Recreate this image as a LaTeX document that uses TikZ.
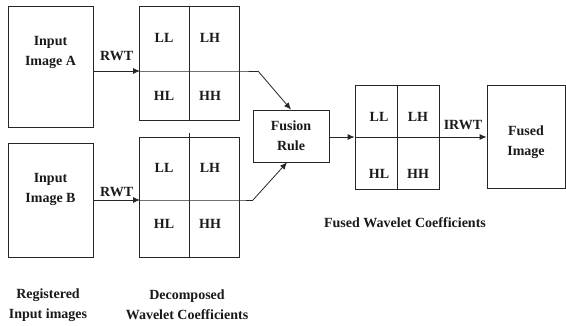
\documentclass[tikz,border=0pt]{standalone}
\usepackage{fontspec}
\setmainfont{Liberation Serif}
\usetikzlibrary{positioning, arrows.meta}
\tikzset{>={Latex[length=7pt,width=6pt]},
every node/.style={font=\fontsize{14}{20}\selectfont\bfseries, align=center, text=black!90},
box/.style={draw=black!85, line width=0.8pt, inner sep=0pt},
line/.style={draw=black!85, line width=0.8pt},
}

\begin{document}
\begin{tikzpicture}[x=1pt, y=-1pt]
    \useasboundingbox (0,0) rectangle (566,325);

    % input images
    \node[box, minimum width=85pt, minimum height=121pt] (imgA) at (50.5,66.5) {};
    \node[box, minimum width=85pt, minimum height=114pt] (imgB) at (50.5,200) {};
    \node (tA) at ([yshift=14pt]imgA.center) {Input\\Image A};
    \node (tB) at ([yshift=11pt]imgB.center) {Input\\Image B};

    % decomposed coefficients
    \node[box, minimum width=100pt, minimum height=114pt] (gA) at (189,63) {};
    \node[box, minimum width=100pt, minimum height=120pt] (gB) at (189,197) {};
    \node (llA) at (164,38) {LL};
    \node (lhA) at (210,38) {LH};
    \node (hlA) at (164,96) {HL};
    \node (hhA) at (210,96) {HH};
    \node (llB) at (164,168) {LL};
    \node (lhB) at (210,168) {LH};
    \node (hlB) at (164,224) {HL};
    \node (hhB) at (210,224) {HH};

    % fusion and output
    \node[box, minimum width=76pt, minimum height=52pt] (fus) at (291,136) {Fusion\\Rule};
    \node[box, minimum width=84pt, minimum height=104pt] (gF) at (397,137) {};
    \node (llF) at (379,117) {LL};
    \node (lhF) at (418,117) {LH};
    \node (hlF) at (379,174) {HL};
    \node (hhF) at (418,174) {HH};
    \node[box, minimum width=78pt, minimum height=103pt] (out) at (526,137) {};
    \node (tOut) at ([yshift=-5pt]out.center) {Fused\\Image};

    \coordinate (midA) at (140,71);
    \coordinate (midB) at (140,200);
    \coordinate (bendA) at (258,71);
    \coordinate (bendB) at (253,200);

    \draw[line] (gA.north) -- (gA.south);
    \draw[line] ([yshift=4pt]gB.north) -- (gB.south);
    \draw[line] (gF.north) -- (gF.south);

    \draw[line, ->] (imgA.east |- midA) -- node[above=7pt]{RWT} (midA);
    \draw[line, ->] (imgB.east |- midB) -- node[above]{RWT} (midB);
    \draw[line] (midA) -- (midA -| gA.east) -- (bendA);
    \draw[line] (midB) -- (midB -| gB.east) -- (bendB);
    \draw[line, ->] (bendA) -- (fus.north);
    \draw[line, ->] (bendB) -- ([xshift=-4pt]fus.south);
    \draw[line, ->] (fus.east |- gF.west) -- (gF.west);
    \draw[line] (gF.west) -- (gF.east);
    \draw[line, ->] (gF.east) -- node[above=4pt]{IRWT} (out.west);

    % captions
    \node (capF) at (405,223) {Fused Wavelet Coefficients};
    \node (capR) at (48,305) {Registered\\Input images};
    \node (capD) at (187,305) {Decomposed\\Wavelet Coefficients};
\end{tikzpicture}
\end{document}
